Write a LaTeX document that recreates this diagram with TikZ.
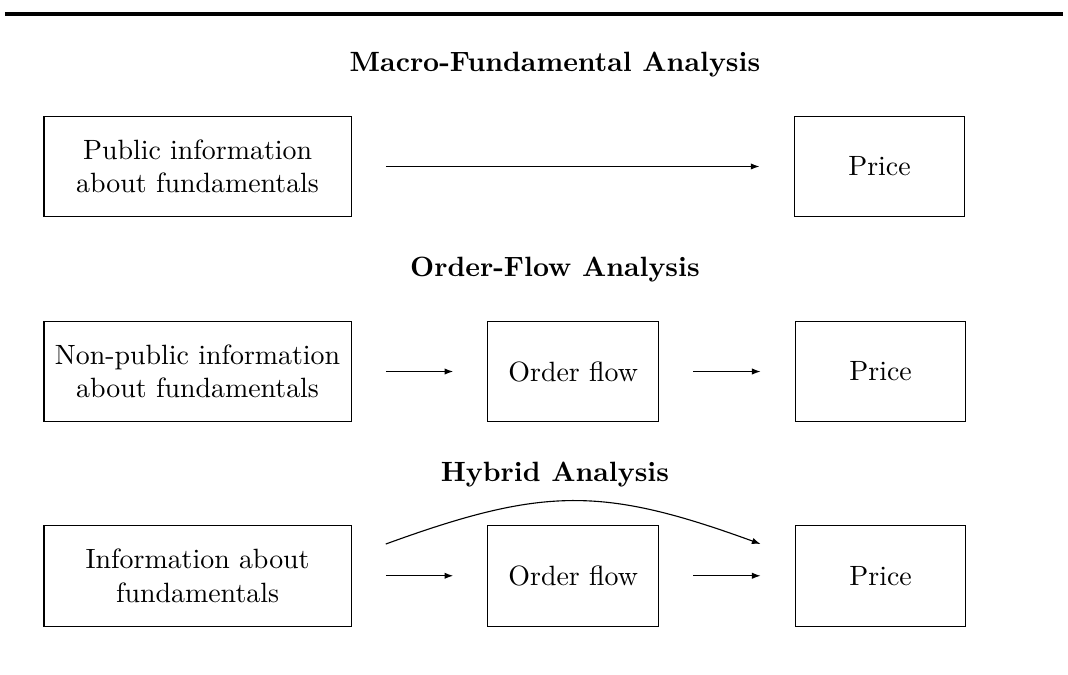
\documentclass[tikz,border=0pt]{standalone}
\usetikzlibrary{arrows.meta,positioning}

\begin{document}
\begin{tikzpicture}[
  box/.style={draw=black,line width=.4pt,minimum width=38.7mm,
    minimum height=12.7mm,align=center,inner sep=2pt},
  smallbox/.style={box,minimum width=21.5mm},
  flow/.style={-{Latex[length=1.1mm,width=.8mm]},line width=.4pt,
    shorten <=4.3mm,shorten >=4.3mm},
  heading/.style={font=\bfseries,anchor=base,xshift=-2.3mm,yshift=5.5mm}
]
\useasboundingbox (0,0) rectangle (134.6mm,-85.05mm);
\draw[line width=.5mm] (.6mm,-1.76mm) -- (134mm,-1.76mm);
% macro-fundamental row
\node[box] (pub) at (24.9mm,-20.98mm) {Public information\\about fundamentals};
\node[smallbox,right=55.7mm of pub] (price1) {Price};
% order-flow row
\node[box,below=13mm of pub] (nonpub) {Non-public information\\about fundamentals};
\node[smallbox,right=17.1mm of nonpub] (order2) {Order flow};
\node[smallbox,right=17.1mm of order2] (price2) {Price};
% hybrid row
\node[box,below=12.9mm of nonpub] (info) {Information about\\fundamentals};
\node[smallbox,right=17.1mm of info] (order3) {Order flow};
\node[smallbox,right=17.1mm of order3] (price3) {Price};
% headings
\node[heading] (macrotitle) at (pub.north -| order2.north) {Macro-Fundamental Analysis};
\node[heading] (ordertitle) at (order2.north) {Order-Flow Analysis};
\node[heading] (hybridtitle) at (order3.north) {Hybrid Analysis};
\draw[flow] (pub.east) -- (price1.west);
\draw[flow] (nonpub.east) -- (order2.west);
\draw[flow] (order2.east) -- (price2.west);
\draw[flow] (info.east) -- (order3.west);
\draw[flow] (order3.east) -- (price3.west);
\draw[flow,shorten <=0pt,shorten >=0pt] ([xshift=4.3mm,yshift=4mm]info.east)
  to[out=20,in=160,looseness=1.15] ([xshift=-4.3mm,yshift=4mm]price3.west);
\end{tikzpicture}
\end{document}
